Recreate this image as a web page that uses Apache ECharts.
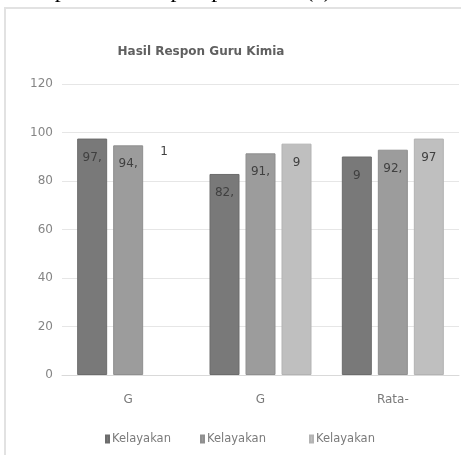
<!DOCTYPE html>
<html>
<head>
<meta charset="utf-8">
<script src="https://cdn.jsdelivr.net/npm/echarts@6/dist/echarts.min.js"></script>
<style>
html,body{margin:0;padding:0;background:#fff;}
#chart{width:461px;height:455px;}
</style>
</head>
<body>
<div id="chart"></div>
<script>
const categories = ['G', 'G', 'Rata-'];
const seriesNames = ['Kelayakan', 'Kelayakan', 'Kelayakan'];
const series1 = [97.5, 82.9, 90.1];
const series2 = [94.7, 91.4, 92.9];
const series3 = [100, 95.4, 97.5];
const labels1 = ['97,', '82,', '9'];
const labels2 = ['94,', '91,', '92,'];
const labels3 = ['1', '9', '97'];
const yTicks = [0, 20, 40, 60, 80, 100, 120];
const hiddenBar = [[2, 0]]; // series index, category index: bar not drawn in source
const colors = ['#797979', '#9c9c9c', '#bfbfbf'];
const borders = ['#6c6c6c', '#8f8f8f', '#b3b3b3'];

const chart = echarts.init(document.getElementById('chart'));
const allVals = [series1, series2, series3];
const allLabels = [labels1, labels2, labels3];

function mkSeries(i) {
  return {
    name: seriesNames[i] + ' '.repeat(i),
    type: 'bar',
    barWidth: 30,
    barGap: '20%',
    data: allVals[i].map((v, j) => {
      const hidden = hiddenBar.some(h => h[0] === i && h[1] === j);
      return {
        value: v,
        itemStyle: hidden ? { color: 'rgba(255,255,255,0)', borderColor: 'rgba(255,255,255,0)' } : undefined,
        label: { formatter: allLabels[i][j] }
      };
    }),
    itemStyle: { color: colors[i], borderColor: borders[i], borderWidth: 1 },
    label: {
      show: true,
      position: 'insideTop',
      distance: 13,
      fontFamily: 'DejaVu Sans',
      fontSize: 12,
      color: '#404040'
    }
  };
}

const legendBase = {
  top: 428,
  itemWidth: 3,
  itemHeight: 7,
  itemGap: 3,
  icon: 'rect',
  textStyle: { fontFamily: 'DejaVu Sans', fontSize: 11.5, color: '#7a7a7a', padding: [0, 0, 0, -2] }
};

chart.setOption({
  animation: false,
  backgroundColor: '#fff',
  graphic: [
    {
      type: 'rect', z: -10, silent: true,
      shape: { x: 5, y: 8, width: 470, height: 460 },
      style: { fill: '#fff', stroke: '#e2e2e2', lineWidth: 2 }
    },
    {
      type: 'text', z: 10, silent: true, left: -14, top: -21,
      style: { text: 'adalah pada satu aspek penilaian (a) dan', font: '24px "Liberation Serif"', fill: '#000' }
    }
  ],
  title: {
    text: 'Hasil Respon Guru Kimia',
    left: 196, top: 41,
    textAlign: 'center',
    textStyle: { fontFamily: 'DejaVu Sans', fontSize: 12, fontWeight: 'bold', color: '#606060' }
  },
  legend: [
    Object.assign({}, legendBase, { left: 100, data: [seriesNames[0]] }),
    Object.assign({}, legendBase, { left: 195, data: [seriesNames[1] + ' '] }),
    Object.assign({}, legendBase, { left: 304, data: [seriesNames[2] + '  '] })
  ],
  grid: { left: 62, right: 2, top: 84, bottom: 80, containLabel: false },
  xAxis: {
    type: 'category',
    data: categories,
    axisLine: { lineStyle: { color: '#d9d9d9' } },
    axisTick: { show: false },
    axisLabel: { margin: 19, fontFamily: 'DejaVu Sans', fontSize: 12, color: '#7a7a7a' }
  },
  yAxis: {
    type: 'value',
    min: yTicks[0], max: yTicks[yTicks.length - 1], interval: yTicks[1] - yTicks[0],
    axisLine: { show: false },
    axisTick: { show: false },
    splitLine: { lineStyle: { color: '#e6e6e6' } },
    axisLabel: { margin: 9, fontFamily: 'DejaVu Sans', fontSize: 12, color: '#858585' }
  },
  series: [mkSeries(0), mkSeries(1), mkSeries(2)]
});
</script>
</body>
</html>
